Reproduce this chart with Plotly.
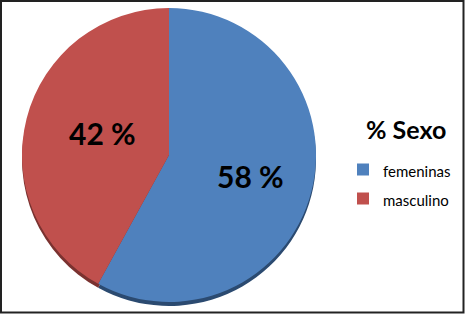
import math
import plotly.graph_objects as go

labels = ["femeninas", "masculino"]
values = [58, 42]
colors = ["#4F81BD", "#C0504D"]
shadow_colors = ["#2B4A70", "#7A3230"]
title_text = "% Sexo"

W, H = 466, 316
cx, cy, r = 169, 155, 147
dx0, dx1 = (cx - r) / W, (cx + r) / W
dy0, dy1 = (H - cy - r) / H, (H - cy + r) / H
shift = 4 / H
label_radius = [0.57, 0.48]   # fraction of pie radius for each data label
label_angle_offset = [0.0, 4.0]  # degrees

fig = go.Figure()
# depth (3D edge) underneath
fig.add_trace(go.Pie(
    labels=labels, values=values, sort=False, direction="clockwise",
    marker=dict(colors=shadow_colors, line=dict(width=0)),
    textinfo="none", hoverinfo="skip", showlegend=False,
    domain=dict(x=[dx0, dx1], y=[dy0 - shift, dy1 - shift]),
))
fig.add_trace(go.Pie(
    labels=[f'<span style="font-size:15px">{l}</span>' for l in labels],
    values=values, sort=False, direction="clockwise",
    marker=dict(colors=colors, line=dict(width=0)),
    textinfo="none",
    domain=dict(x=[dx0, dx1], y=[dy0, dy1]),
))

# data labels placed along each slice's bisector
total = sum(values)
annotations = []
start = 0.0
for v, fr, off in zip(values, label_radius, label_angle_offset):
    mid = (start + v / 2) / total * 2 * math.pi + math.radians(off)
    start += v
    d = fr * r
    px = cx + d * math.sin(mid)
    py = cy - d * math.cos(mid)
    annotations.append(dict(
        text=f"{v} %", x=px / W, y=1 - py / H, xref="paper", yref="paper",
        showarrow=False, xanchor="center", yanchor="middle",
        font=dict(family="Lato", size=30, color="black", weight="bold"),
    ))

fig.update_layout(
    width=W, height=H,
    margin=dict(l=0, r=0, t=0, b=0),
    paper_bgcolor="white",
    font=dict(family="Lato", color="black"),
    title=dict(text=title_text, x=366 / W, xanchor="left", xref="paper",
               y=1 - 130 / H, yanchor="middle", yref="paper",
               font=dict(family="Lato", size=25, color="black", weight="bold")),
    legend=dict(x=343 / W, xanchor="left", y=1 - 150 / H, yanchor="top",
                font=dict(family="Lato", size=20, color="black"),
                bgcolor="rgba(0,0,0,0)", itemclick=False),
    annotations=annotations,
    shapes=[dict(type="rect", xref="paper", yref="paper",
                 x0=1 / W, x1=463.5 / W, y0=(H - 312.5) / H, y1=1 - 1 / H,
                 line=dict(color="#222222", width=2))],
)

fig.write_html("out.html")
